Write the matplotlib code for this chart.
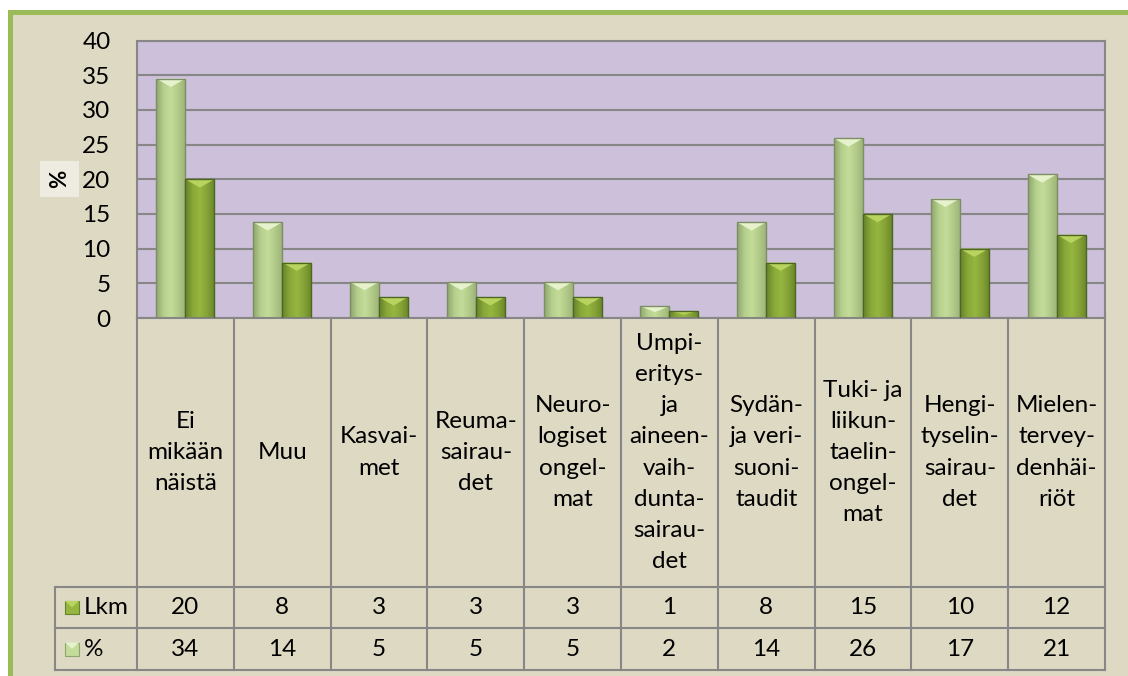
import matplotlib.pyplot as plt
import matplotlib.patches as mpatches
import matplotlib.colors as mcolors
import numpy as np

categories = ["Ei\nmikään\nnäistä", "Muu", "Kasvai-\nmet", "Reuma-\nsairau-\ndet",
              "Neuro-\nlogiset\nongel-\nmat",
              "Umpi-\neritys-\nja\naineen-\nvaih-\ndunta-\nsairau-\ndet",
              "Sydän-\nja veri-\nsuoni-\ntaudit", "Tuki- ja\nliikun-\ntaelin-\nongel-\nmat",
              "Hengi-\ntyselin-\nsairau-\ndet", "Mielen-\ntervey-\ndenhäi-\nriöt"]
pct_values = [34.5, 13.8, 5.2, 5.2, 5.2, 1.7, 13.8, 25.9, 17.2, 20.7]
lkm_values = [20, 8, 3, 3, 3, 1, 8, 15, 10, 12]
pct_labels = [34, 14, 5, 5, 5, 2, 14, 26, 17, 21]
yticks = [0, 5, 10, 15, 20, 25, 30, 35, 40]

W, H = 1128, 676
FONT = "Lato"
FS = 17.5
BEIGE = "#ddd9c3"
LINE = "#878787"

plt.rcParams["font.family"] = [FONT, "DejaVu Sans"]

fig = plt.figure(figsize=(W / 100, H / 100), dpi=100)
fig.patch.set_facecolor("white")


def px_axes(l, t, r, b):
    return fig.add_axes([l / W, 1 - b / H, (r - l) / W, (b - t) / H])


# chart frame
frame = mpatches.Rectangle((9.5 / W, -0.1), 1.2, 1 - 12 / H + 0.1, transform=fig.transFigure,
                           facecolor=BEIGE, edgecolor="#9bbb59", linewidth=3.6, zorder=-10)
fig.patches.append(frame)

# main plot
ax = px_axes(137, 40.5, 1105, 318)
ax.set_facecolor("#ccc0da")
ax.set_xlim(-0.5, len(categories) - 0.5)
ax.set_ylim(0, 40)
ax.set_yticks(yticks)
ax.set_yticklabels([str(v) for v in yticks], fontsize=FS)
ax.set_xticks([])
ax.tick_params(axis="y", length=0, pad=19)
ax.yaxis.grid(True, color=LINE, linewidth=1.5)
ax.set_axisbelow(True)
for s in ax.spines.values():
    s.set_color(LINE)
    s.set_linewidth(1.5)

x = np.arange(len(categories))
bw = 0.3


def grad_cmap(cols):
    return mcolors.LinearSegmentedColormap.from_list("g", cols)


pct_cmap = grad_cmap(["#8fa56e", "#b5cf8c", "#c4dc9a", "#b2ca88", "#9cb27a"])
lkm_cmap = grad_cmap(["#66822a", "#88a838", "#96b640", "#84a236", "#6a862a"])
grad = np.linspace(0, 1, 64).reshape(1, -1)


def draw_bars(xs, vals, cmap, bevel_col, edge):
    bars = ax.bar(xs, vals, bw, color="none", edgecolor=edge, linewidth=1.0, zorder=3)
    for b in bars:
        x0, w, h = b.get_x(), b.get_width(), b.get_height()
        im = ax.imshow(grad, cmap=cmap, aspect="auto", extent=(x0, x0 + w, 0, h), zorder=2.5)
        im.set_clip_path(b)
        d = min(1.2, h * 0.5)
        tri = mpatches.Polygon([(x0, h), (x0 + w, h), (x0 + w / 2, h - d)], closed=True,
                               facecolor=bevel_col, edgecolor="none", zorder=2.8)
        ax.add_patch(tri)
    return bars


draw_bars(x - bw / 2, pct_values, pct_cmap, "#e6f2cc", "#7d8f62")
draw_bars(x + bw / 2, lkm_values, lkm_cmap, "#b8d45e", "#4d6620")
ax.set_xlim(-0.5, len(categories) - 0.5)
ax.set_ylim(0, 40)

# axis title
fig.text(59.5 / W, 1 - 179 / H, "%", rotation=90, ha="center", va="center", fontsize=16,
         fontweight="bold",
         bbox=dict(boxstyle="square,pad=0.4", facecolor="#eeece1", edgecolor="none"))

# data table
tab = px_axes(137, 318, 1105, 670)
tab.set_xlim(-0.5, len(categories) - 0.5)
tab.set_ylim(352, 0)
tab.axis("off")
tab.patch.set_alpha(0)
r1, r2, r3 = 269, 310, 352
xl = -0.5 - (137 - 55) / 96.8
kw = dict(color=LINE, linewidth=1.5, clip_on=False)
for k in range(len(categories) + 1):
    tab.plot([k - 0.5, k - 0.5], [0, r3], **kw)
for yy in (r1, r2, r3):
    tab.plot([xl, len(categories) - 0.5], [yy, yy], **kw)
tab.plot([xl, xl], [r1, r3], **kw)

for i, c in enumerate(categories):
    tab.text(i, r1 / 2, c, ha="center", va="center", fontsize=FS, linespacing=1.6,
             multialignment="center")
    tab.text(i, (r1 + r2) / 2, str(lkm_values[i]), ha="center", va="center", fontsize=FS)
    tab.text(i, (r2 + r3) / 2, str(pct_labels[i]), ha="center", va="center", fontsize=FS)

# legend keys
ux = 1 / 96.8
for yc, name, cmap, bev in (((r1 + r2) / 2, "Lkm", lkm_cmap, "#b8d45e"),
                            ((r2 + r3) / 2, "%", pct_cmap, "#e6f2cc")):
    kx0 = -0.5 - 72 * ux
    kw_ = 14 * ux
    key = mpatches.Rectangle((kx0, yc - 6.5), kw_, 13, facecolor=cmap(0.5),
                             edgecolor=cmap(0.0), linewidth=0.8, clip_on=False)
    tab.add_patch(key)
    tab.add_patch(mpatches.Polygon([(kx0, yc - 6.5), (kx0 + kw_, yc - 6.5), (kx0 + kw_ / 2, yc)],
                                   facecolor=bev, edgecolor="none", clip_on=False))
    tab.text(-0.5 - 53 * ux, yc, name, ha="left", va="center", fontsize=FS)

fig.savefig("out.png", dpi=100)
